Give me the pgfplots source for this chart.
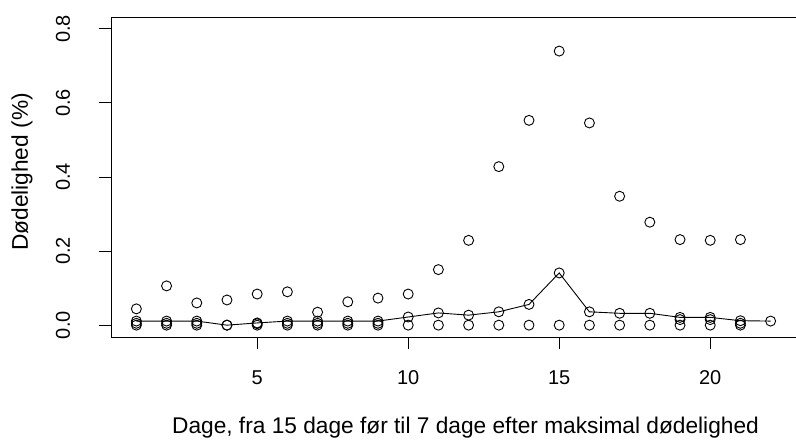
\documentclass[border=0pt]{standalone}
\usepackage{fontspec}
\setmainfont{Liberation Sans}
\usepackage{pgfplots}
\pgfplotsset{compat=1.18}
\usetikzlibrary{calc}
\begin{document}
\begin{tikzpicture}
\begin{axis}[
  scale only axis,
  width=685pt, height=320pt,
  xmin=0.16, xmax=22.84,
  ymin=-0.032, ymax=0.832,
  axis line style={line width=0.9pt},
  tick style={line width=0.9pt, black},
  tick align=outside,
  major tick length=12pt,
  xtick pos=bottom, ytick pos=left,
  xtick={5,10,15,20},
  ytick={0,0.2,0.4,0.6,0.8},
  yticklabel style={/pgf/number format/fixed, /pgf/number format/fixed zerofill, /pgf/number format/precision=1, rotate=90, anchor=center, yshift=36pt, font=\fontsize{20}{24}\selectfont},
  xticklabel style={anchor=center, yshift=-29pt, font=\fontsize{20}{24}\selectfont},
  /pgf/number format/assume math mode=true,
  xlabel={Dage, fra 15 dage før til 7 dage efter maksimal dødelighed},
  ylabel={Dødelighed (\%)},
  xlabel style={at={(axis description cs:0.5,0)}, anchor=center, yshift=-91pt, xshift=12pt, font=\fontsize{22.7}{26}\selectfont},
  ylabel style={at={(axis description cs:0,0.5)}, anchor=center, yshift=89pt, xshift=5pt, font=\fontsize{22.7}{26}\selectfont},
  every axis plot/.append style={line width=0.9pt},
]
% upper points
\addplot[only marks, mark=o, mark size=5pt, black] coordinates {
(1,0.044) (2,0.106) (3,0.060) (4,0.068) (5,0.084) (6,0.090) (7,0.035)
(8,0.063) (9,0.073) (10,0.084) (11,0.150) (12,0.229) (13,0.428) (14,0.553)
(15,0.740) (16,0.546) (17,0.348) (18,0.278) (19,0.231) (20,0.229) (21,0.231)
};
% lower points
\addplot[only marks, mark=o, mark size=5pt, black] coordinates {
(1,0) (2,0) (3,0) (4,0) (5,0) (6,0) (7,0) (8,0) (9,0) (10,0) (11,0)
(12,0) (13,0) (14,0) (15,0) (16,0) (17,0) (18,0) (19,0) (20,0) (21,0)
(1,0.005) (2,0.005) (3,0.005) (5,0.004) (6,0.005) (7,0.005) (8,0.005) (9,0.005)
(19,0.015) (20,0.015) (21,0.005)
};
% mean line
\addplot[mark=o, mark size=5pt, black] coordinates {
(1,0.011) (2,0.011) (3,0.011) (4,0.0) (5,0.006) (6,0.011) (7,0.011)
(8,0.011) (9,0.011) (10,0.022) (11,0.033) (12,0.027) (13,0.036) (14,0.056)
(15,0.141) (16,0.036) (17,0.032) (18,0.032) (19,0.021) (20,0.021) (21,0.012) (22,0.011)
};
\end{axis}
\pgfresetboundingbox
\path ($(current axis.south west)+(-111pt,-104pt)$) rectangle ($(current axis.north east)+(0pt,17pt)$);
\end{tikzpicture}
\end{document}
